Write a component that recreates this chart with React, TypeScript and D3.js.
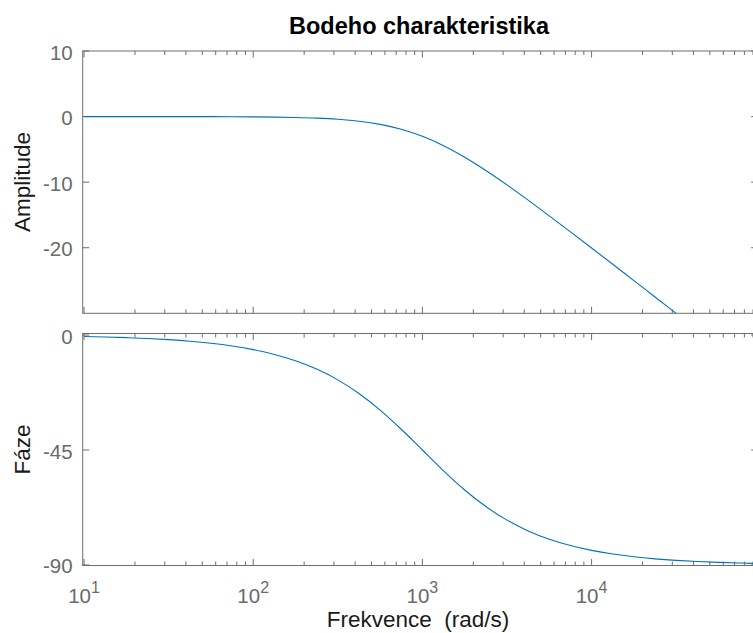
import React from 'react';
import * as d3 from 'd3';

// Frequency samples (rad/s) and response values
const freq = [10, 13.34, 17.78, 23.71, 31.62, 42.17, 56.23, 74.99, 100, 133.4, 177.8, 237.1, 316.2, 421.7, 562.3, 749.9, 1000, 1334, 1778, 2371, 3162, 4217, 5623, 7499, 10000, 13340, 17780, 23710, 31620, 42170, 56230, 74990, 100000];
const magnitudeDb = [-0.0004, -0.0008, -0.0014, -0.0024, -0.0043, -0.0077, -0.0137, -0.0244, -0.0432, -0.0765, -0.1352, -0.2376, -0.4139, -0.7107, -1.193, -1.938, -3.010, -4.437, -6.193, -8.211, -10.414, -12.738, -15.135, -17.576, -20.043, -22.524, -25.014, -27.508, -30.004, -32.50, -35.00, -37.50, -40.00];
const phaseDeg = [-0.573, -0.764, -1.019, -1.358, -1.811, -2.414, -3.218, -4.289, -5.711, -7.599, -10.08, -13.34, -17.55, -22.87, -29.36, -36.87, -45.0, -53.13, -60.64, -67.13, -72.45, -76.66, -79.92, -82.40, -84.29, -85.71, -86.78, -87.59, -88.19, -88.64, -88.98, -89.24, -89.43];

const magTicks = [10, 0, -10, -20];
const phaseTicks = [0, -45, -90];
const decadeTicks = [10, 100, 1000, 10000];
const decadeExponents = ['1', '2', '3', '4'];
const minorMultipliers = [2, 3, 4, 5, 6, 7, 8, 9];

const titleText = 'Bodeho charakteristika';
const yLabelTop = 'Amplitude';
const yLabelBottom = 'Fáze';
const xLabelText = 'Frekvence  (rad/s)';

const W = 753;
const H = 633;
const FONT = '"Liberation Sans", Arial, Helvetica, sans-serif';
const AXIS = '#6e6e6e';
const TICKTXT = '#6b6b6b';
const LINE = '#0072BD';

export default function App() {
  const left = 82.7;
  const right = 757.7;
  const x = d3.scaleLog().domain([9.82, 95900]).range([left, right]);
  const yMag = d3.scaleLinear().domain([-30, 10]).range([313.3, 51]);
  const yPh = d3.scaleLinear().domain([-90.2, 0.6]).range([565.5, 333.5]);

  const idx = freq.map((_, i) => i);
  const magLine = d3.line<number>().x(i => x(freq[i])).y(i => yMag(magnitudeDb[i])).curve(d3.curveMonotoneX);
  const phLine = d3.line<number>().x(i => x(freq[i])).y(i => yPh(phaseDeg[i])).curve(d3.curveMonotoneX);

  const [xmin, xmax] = x.domain();
  const minors: number[] = [];
  decadeTicks.forEach(d => minorMultipliers.forEach(m => { const v = d * m; if (v > xmin && v < xmax) minors.push(v); }));

  const renderAxes = (y: d3.ScaleLinear<number, number>, ticks: number[], key: string, showXLabels: boolean) => {
    const [yb, yt] = y.range();
    const major = 6.5;
    const minor = 4;
    return (
      <g key={key}>
        <rect x={left} y={yt} width={right - left} height={yb - yt} fill="none" stroke={AXIS} strokeWidth={1} />
        {decadeTicks.map(t => (
          <g key={'M' + t}>
            <line x1={x(t)} x2={x(t)} y1={yb} y2={yb - major} stroke={AXIS} strokeWidth={1} />
            <line x1={x(t)} x2={x(t)} y1={yt} y2={yt + major} stroke={AXIS} strokeWidth={1} />
          </g>
        ))}
        {minors.map(t => (
          <g key={'m' + t}>
            <line x1={x(t)} x2={x(t)} y1={yb} y2={yb - minor} stroke={AXIS} strokeWidth={1} />
            <line x1={x(t)} x2={x(t)} y1={yt} y2={yt + minor} stroke={AXIS} strokeWidth={1} />
          </g>
        ))}
        {ticks.map(t => (
          <g key={'y' + t}>
            <line x1={left} x2={left + major} y1={y(t)} y2={y(t)} stroke={AXIS} strokeWidth={1} />
            <line x1={right} x2={right - major} y1={y(t)} y2={y(t)} stroke={AXIS} strokeWidth={1} />
            <text x={left - 10} y={y(t) + 1} textAnchor="end" dominantBaseline="central" fontSize={20.5} fill={TICKTXT} fontFamily={FONT}>{t}</text>
          </g>
        ))}
        {showXLabels && decadeTicks.map((t, i) => (
          <text key={'xl' + t} x={x(t)} y={603} textAnchor="middle" fontSize={20.5} fill={TICKTXT} fontFamily={FONT}>
            10<tspan dy={-10} fontSize={16}>{decadeExponents[i]}</tspan>
          </text>
        ))}
      </g>
    );
  };

  return (
    <svg width={W} height={H} style={{ position: 'absolute', left: 0, top: 0, background: '#fff' }}>
      <rect width={W} height={H} fill="#fff" />
      <defs>
        <clipPath id="clipTop"><rect x={left} y={51} width={right - left} height={313.3 - 51} /></clipPath>
        <clipPath id="clipBot"><rect x={left} y={333.5} width={right - left} height={565.5 - 333.5} /></clipPath>
      </defs>
      {renderAxes(yMag, magTicks, 'top', false)}
      {renderAxes(yPh, phaseTicks, 'bot', true)}
      <path d={magLine(idx) || ''} fill="none" stroke={LINE} strokeWidth={1.1} clipPath="url(#clipTop)" />
      <path d={phLine(idx) || ''} fill="none" stroke={LINE} strokeWidth={1.1} clipPath="url(#clipBot)" />
      <text x={419} y={34} textAnchor="middle" fontSize={23.5} fontWeight="bold" fill="#000" fontFamily={FONT}>{titleText}</text>
      <text transform={`translate(30,182) rotate(-90)`} textAnchor="middle" fontSize={22.5} fill="#1a1a1a" fontFamily={FONT}>{yLabelTop}</text>
      <text transform={`translate(30,449.5) rotate(-90)`} textAnchor="middle" fontSize={22.5} fill="#1a1a1a" fontFamily={FONT}>{yLabelBottom}</text>
      <text x={418} y={627} textAnchor="middle" fontSize={22.5} fill="#1a1a1a" fontFamily={FONT} style={{ whiteSpace: 'pre' }}>{xLabelText}</text>
    </svg>
  );
}
